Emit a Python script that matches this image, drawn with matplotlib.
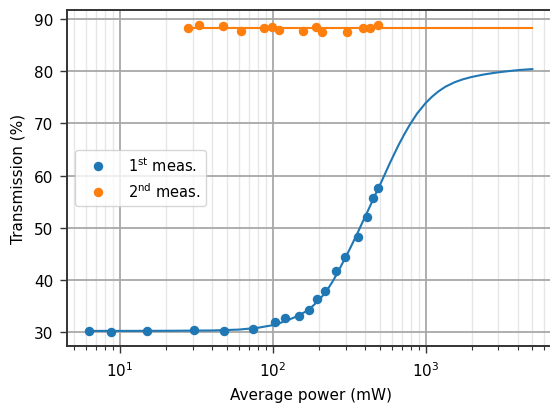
import matplotlib
matplotlib.use("Agg")
import matplotlib.pyplot as plt
from matplotlib.ticker import LogLocator, NullFormatter

p1 = [6.3, 8.7, 15.0, 30.5, 48.2, 74.6, 103.3, 120.7, 149, 173, 194.5, 220.6,
      260.6, 298.5, 363, 414, 455, 488]
t1 = [30.3, 30.1, 30.25, 30.4, 30.3, 30.7, 32.0, 32.7, 33.2, 34.3, 36.3, 37.9,
      41.7, 44.5, 48.3, 52.0, 55.7, 57.6]

p2 = [27.7, 32.9, 47.5, 62.2, 88, 99.3, 109.3, 158.5, 191, 209, 308, 389, 432, 490]
t2 = [88.3, 88.9, 88.6, 87.7, 88.35, 88.5, 87.9, 87.7, 88.4, 87.5, 87.6, 88.3, 88.3, 88.9]

# fit curves
fit1_p = [6.3, 10, 20, 40, 60, 80, 100, 110, 120, 135, 150, 165, 180, 200, 215,
          230, 245, 260, 280, 300, 320, 340, 360, 380, 400, 420, 440, 460, 480,
          501, 540, 583, 625, 667, 725, 794, 880, 1000, 1100, 1208, 1350, 1549,
          1750, 1995, 2400, 2818, 3300, 3802, 4200, 5000]
fit1_t = [30.25, 30.25, 30.27, 30.33, 30.5, 30.85, 31.35, 31.7, 32.1, 32.7, 33.3,
          34.0, 34.85, 36.1, 37.2, 38.35, 39.6, 40.9, 42.7, 44.4, 46.0, 47.6, 49.1,
          50.6, 52.0, 53.3, 54.6, 55.8, 57.0, 58.1, 60.2, 62.35, 64.2, 65.9, 67.9,
          69.9, 71.9, 73.9, 75.1, 76.1, 77.05, 77.9, 78.45, 78.9, 79.38, 79.7,
          79.95, 80.15, 80.27, 80.42]
fit2_p = [27.7, 5000]
fit2_t = [88.24, 88.24]

labels = [r"1$^{\mathrm{st}}$ meas.", r"2$^{\mathrm{nd}}$ meas."]

plt.rcParams['font.family'] = ['DejaVu Sans']
plt.rcParams['font.size'] = 11

fig = plt.figure(figsize=(5.5, 4.06), dpi=100)
ax = fig.add_axes([0.1224, 0.1446, 0.886, 0.829])

ax.plot(fit1_p, fit1_t, color='C0', lw=1.5)
ax.plot(fit2_p, fit2_t, color='C1', lw=1.5)
ax.plot(p1, t1, 'o', color='C0', ms=5.8, label=labels[0])
ax.plot(p2, t2, 'o', color='C1', ms=5.8, label=labels[1])

ax.set_xscale('log')
ax.xaxis.set_minor_locator(LogLocator(base=10, subs=range(2, 10), numticks=20))
ax.xaxis.set_minor_formatter(NullFormatter())
ax.set_xlim(10**0.655, 10**3.845)
ax.set_ylim(27.3, 91.8)
ax.set_yticks([30, 40, 50, 60, 70, 80, 90])

ax.tick_params(which='major', length=5, width=1.0, pad=5, color='#333333')
ax.tick_params(which='minor', length=2.8, width=0.8, color='#333333')

ax.grid(which='major', color='#a8a8a8', lw=1.3)
ax.grid(which='minor', axis='x', color='#e6e6e6', lw=1.0)
ax.set_axisbelow(True)

ax.set_xlabel('Average power (mW)', labelpad=6)
ax.set_ylabel('Transmission (%)', labelpad=6)
for s in ax.spines.values():
    s.set_color('#333333')
    s.set_linewidth(1.4)

ax.legend(loc='center left', numpoints=1, framealpha=0.8, fontsize=10.5,
          handlelength=2.4, handletextpad=0.85)

fig.savefig('out.png', dpi=100)
